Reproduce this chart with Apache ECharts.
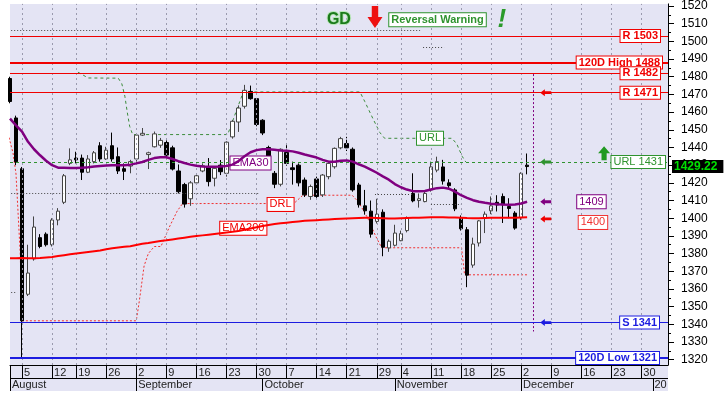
<!DOCTYPE html>
<html><head><meta charset="utf-8">
<script src="https://cdn.jsdelivr.net/npm/echarts@6.0.0/dist/echarts.min.js"></script>
<style>html,body{margin:0;padding:0;background:#fff}#c{width:728px;height:405px}</style>
</head><body><div id="c"></div>
<script>
// ---- calendar (trading days + future weekdays) ----
const augDays = [1,2,5,6,7,8,9,12,13,14,16,19,20,21,22,23,26,27,28,29,30];
const sepDays = [2,3,4,5,6,9,10,11,12,13,16,17,18,19,20,23,24,25,26,27,30];
const octDays = [1,2,3,4,7,8,9,10,11,14,15,16,17,18,21,22,23,24,25,29,30,31];
const novDays = [1,4,5,6,7,8,11,12,13,14,15,18,19,20,21,22,25,26,27,28,29];
const decDays = [2,3,4,5,6,9,10,11,12,13,16,17,18,19,20,23,24,25,26,27,30,31];
const janDays = [1,2,3];
const pad = d => (d < 10 ? '0' : '') + d;
const dates = [].concat(
  augDays.map(d => '2019-08-' + pad(d)), sepDays.map(d => '2019-09-' + pad(d)),
  octDays.map(d => '2019-10-' + pad(d)), novDays.map(d => '2019-11-' + pad(d)),
  decDays.map(d => '2019-12-' + pad(d)), janDays.map(d => '2020-01-' + pad(d)));

// ---- price data ----
const open = [1479,1456.7,1428,1357,1377,1389,1391,1385,1399,1409,
 1431,1434,1434,1426,1432,1441,1433.5,1441,1434.8,1428,
 1429.5,1433.5,1447,1436,1440.4,1441.3,1442.8,1439.8,1426.7,1419,
 1411,1420,1426.7,1429,1422.6,1430,1425.4,1446,1454.4,1463.3,
 1471.7,1467.6,1455.4,1440,1425.4,1419.2,1437.2,1428.5,1430,1421.6,
 1412.3,1422.2,1413.2,1423.5,1429.1,1439.8,1442.2,1439,1418.8,1407,
 1404,1398.2,1403.4,1383.2,1384.7,1387.3,1393,1414,1410,1409.4,
 1416,1427.2,1429,1420,1416,1400,1393.5,1373.5,1386,1400.4,
 1404.2,1409,1412.3,1406.6,1402.9,1400.4,1430];
const close = [1466,1432,1342,1369,1395,1384,1385,1399,1404,1424,
 1433,1433,1426,1433.5,1437,1433.5,1438.5,1433.5,1426.7,1426.5,
 1432,1447,1448,1437,1447.7,1444,1435.7,1427.8,1415,1408,
 1420,1424,1429.7,1420.7,1428.2,1426.3,1443,1454.8,1462.3,1472.3,
 1467.6,1453,1448.2,1433.8,1419.2,1439,1431,1427.5,1420,1413.2,
 1417.9,1412.3,1424.4,1431,1439.5,1445,1439.8,1416,1407.6,1404.2,
 1391,1402.3,1383.6,1387,1391.6,1391.3,1400.4,1409.8,1411,1414,
 1429,1432,1421,1418.4,1405.3,1394,1367.8,1385.4,1398.5,1402.3,
 1407,1407.5,1407.6,1405.5,1394.4,1425.4,1429.22];
const low = [1465,1430,1321,1356,1376,1383,1384,1384,1396,1408,
 1430,1431,1421.6,1425.5,1431,1432,1433,1432,1425,1421.6,
 1425.4,1432,1446.5,1427.8,1440,1439.8,1435,1427,1414,1406,
 1407,1419,1426,1418,1418,1424.4,1423.5,1445,1448.8,1462,
 1467,1452,1447,1432,1417,1418,1429.7,1419,1418,1412,
 1410.4,1411.5,1412,1422,1428,1439,1438,1415,1406,1402,
 1389,1397,1378.5,1381,1384,1387,1392,1409,1406,1409,
 1415,1426,1419,1417,1404,1393,1361,1372,1384,1391.6,
 1402.3,1403.8,1397.3,1400,1393.5,1399,1424.8];
const high = [1480,1458,1429,1385,1401,1391,1392,1400,1405.7,1425,
 1439.5,1437.6,1436,1435.7,1438,1443,1440.4,1448.4,1440,1431,
 1433,1447.5,1451,1437.6,1449,1445.4,1444,1441,1430.4,1420,
 1421,1425.4,1431,1434,1429,1432.9,1443.5,1455.5,1463.8,1475.4,
 1475,1468,1456,1441,1426.7,1439.5,1441.3,1432,1431,1423,
 1419,1423.5,1425,1432,1440,1446,1446,1440,1420,1416,
 1410,1411,1405,1388,1396.3,1393,1401,1425.4,1414,1415,
 1432,1434.8,1433,1422,1417,1401.6,1395,1389,1399,1403.8,
 1412.3,1413,1414,1411.3,1404,1426,1436.6];
const ema30 = [1456.3,1452.5,1449,1443.2,1439,1435.6,1432.5,1430,1428.6,1428.5,
 1428.4,1428.4,1428.6,1428.8,1429.2,1429.5,1429.8,1430,1430,1430,
 1430.3,1431,1431.8,1433,1434,1434.5,1434.5,1433.5,1432.3,1431.2,
 1430.3,1429.7,1429.3,1429.1,1429.1,1429.2,1429.5,1430.3,1432.3,1435,
 1437.3,1438.5,1439,1439,1438.7,1438.3,1438.2,1437.8,1437,1436,
 1435.2,1434.3,1433,1432,1431.9,1432.5,1432.7,1432,1430.5,1429.2,
 1427.5,1425.7,1423.7,1421.8,1419.3,1417.5,1416.2,1415.3,1415.2,1415.4,
 1416.2,1417,1417.3,1416.7,1415,1413,1411.5,1410.2,1409.3,1408.7,
 1408.2,1407.9,1407.7,1407.6,1407.8,1408.3,1409.3];
const ema200 = [1377.3,1377.4,1377.5,1377.4,1377.3,1377.5,1377.8,1378.1,1378.6,1379.1,
 1379.6,1380.1,1380.5,1380.9,1381.3,1381.7,1382.5,1383,1383.4,1383.8,
 1384.2,1384.9,1385.5,1386,1386.6,1387.1,1387.5,1388,1388.5,1389,
 1389.5,1389.9,1390.3,1390.7,1391.1,1391.5,1391.9,1392.3,1392.8,1393.5,
 1394.2,1394.9,1395.6,1396.2,1396.7,1397.1,1397.5,1397.9,1398.2,1398.5,
 1398.7,1398.9,1399.1,1399.3,1399.5,1399.7,1399.9,1400,1400.1,1400.2,
 1400.2,1400.1,1400,1399.9,1399.9,1400,1400.1,1400.2,1400.3,1400.4,
 1400.5,1400.5,1400.5,1400.4,1400.4,1400.3,1400.1,1400,1400,1400.1,
 1400.2,1400.3,1400.3,1400.3,1400.2,1400.4,1400.6];

// step lines (position in trading-day index, value)
const urlX = [11.3,13,18,18.6,19.1,19.5,19.9,20.4,36.2,38.8,58.2,59,60.4,61.5,62.3,73.5,74.3,75.2,75.8];
const urlY = [1482.6,1479.3,1479.2,1476,1469,1460,1452,1447.3,1447.3,1471.4,1471.4,1466,1456,1448.5,1445.2,1445.2,1442,1435,1431.8];
const drlX = [-0.5,0.5,1,1.7,2,21,21.5,22.3,23,24,25.1,26.5,27.8,28.7,47.2,48.7,56.9,58,59.5,60.8,61.8,75.1,75.6,86.1];
const drlY = [1450,1437,1425,1380,1342,1342,1353,1373,1380,1384,1384,1395,1404,1408.3,1408.3,1413,1413,1409,1400,1390,1383.3,1383.3,1368,1368];

// levels
const resValues = [1503, 1482, 1471];
const resLabels = ['R 1503', 'R 1482', 'R 1471'];
const high120 = 1488, low120 = 1321, support = 1341, urlLevel = 1431.8;
const lastPrice = 1429.22;

// axis tick labels
const weekTickDates = ['2019-08-05','2019-08-12','2019-08-19','2019-08-26','2019-09-02','2019-09-09','2019-09-16','2019-09-23','2019-09-30','2019-10-07','2019-10-14','2019-10-21','2019-10-29','2019-11-04','2019-11-11','2019-11-18','2019-11-25','2019-12-02','2019-12-09','2019-12-16','2019-12-23','2019-12-30'];
const monthStartDates = ['2019-08-01','2019-09-02','2019-10-01','2019-11-01','2019-12-02'];
const monthNames = ['August','September','October','November','December'];
const yearStartDate = '2020-01-01', yearName = '2020';
const yTicks = [1320,1330,1340,1350,1360,1370,1380,1390,1400,1410,1420,1430,1440,1450,1460,1470,1480,1490,1500,1510,1520];
const yMinor = [1325,1335,1345,1355,1365,1375,1385,1395,1405,1415,1425,1435,1445,1455,1465,1475,1485,1495,1505,1515];

// ---- build ----
const FONT = '"Liberation Sans", Arial, sans-serif';
const ix = d => dates.indexOf(d);
const weekIdx = weekTickDates.map(ix);
const monthIdx = monthStartDates.map(ix);
const yearIdx = ix(yearStartDate);
const X_MAX = 109.43, Y_MIN = 1317, Y_MAX = 1521.2;
const todayIdx = open.length; // next session marker

const candleData = open.map((o, i) => [i, o, close[i], low[i], high[i]]);
const pts = (xs, ys) => xs.map((x, i) => [x, ys[i]]);

function levelLine(v, text, color, width, bold, dist, dashed) {
  return {
    yAxis: v,
    lineStyle: { color: color, width: width, type: dashed ? [3, 3] : 'solid' },
    label: {
      show: true, position: 'end', distance: -dist, align: 'right', formatter: text,
      color: color, fontWeight: bold ? 'bold' : 'normal', fontSize: 11, fontFamily: FONT,
      backgroundColor: '#fff', borderColor: color, borderWidth: 1, padding: [1, 2, 0, 2], lineHeight: 11
    }
  };
}
const RED = '#f00000', BLUE = '#1c1ce0', GREEN = '#2f932f', PURPLE = '#800080';

function boxLabel(coord, text, color, bold, bg) {
  return {
    coord: coord, symbol: 'rect', symbolSize: 1, itemStyle: { color: 'rgba(0,0,0,0)' },
    label: { show: true, position: 'inside', formatter: text, color: color, fontSize: 11, fontFamily: FONT,
      fontWeight: bold ? 'bold' : 'normal', backgroundColor: bg || '#fff', borderColor: color, borderWidth: 1,
      padding: [1, 2, 0, 2], lineHeight: 12 }
  };
}
const LEFT_ARROW = 'path://M0,5L5,0L5,3L12,3L12,7L5,7L5,10Z';
function arrow(coord, color) {
  return { coord: coord, symbol: LEFT_ARROW, symbolSize: [11, 7], itemStyle: { color: color }, label: { show: false } };
}
const DOT = { color: '#444', type: [1, 2], width: 1 };

const option = {
  animation: false,
  backgroundColor: '#fff',
  textStyle: { fontFamily: FONT },
  grid: [
    { left: 10, right: 60, top: 0, bottom: 40, show: true, backgroundColor: '#e4e4f4', borderWidth: 0 },
    { left: 10, right: 60, top: 365, height: 26, show: true, backgroundColor: '#e4e4f4', borderWidth: 0 }
  ],
  xAxis: [
    { gridIndex: 0, type: 'value', min: 0, max: X_MAX, axisLine: { show: false, onZero: false }, axisTick: { show: false },
      axisLabel: { show: false }, splitLine: { show: false } },
    { gridIndex: 1, type: 'value', min: 0, max: X_MAX, position: 'top',
      axisLine: { show: true, onZero: false, lineStyle: { color: '#000', width: 1 } },
      axisTick: { show: true, inside: true, length: 13, customValues: [0].concat(weekIdx), lineStyle: { color: '#000' } },
      axisLabel: { show: true, inside: true, customValues: weekIdx, margin: 2, align: 'left', padding: [0, 0, 0, 2],
        fontSize: 11, color: '#222', formatter: v => String(+dates[Math.round(v)].slice(8)) },
      splitLine: { show: false } },
    { gridIndex: 1, type: 'value', min: 0, max: X_MAX, position: 'bottom',
      axisLine: { show: false, onZero: false },
      axisTick: { show: true, inside: true, length: 13, customValues: monthIdx.concat([yearIdx]), lineStyle: { color: '#000' } },
      axisLabel: { show: true, inside: true, customValues: monthIdx, margin: 1, align: 'left', padding: [0, 0, 0, 2],
        fontSize: 11, color: '#222', formatter: v => monthNames[monthIdx.indexOf(Math.round(v))] },
      splitLine: { show: false } },
    { gridIndex: 1, type: 'value', min: 0, max: X_MAX, position: 'bottom', offset: 0,
      axisLine: { show: false, onZero: false }, axisTick: { show: false },
      axisLabel: { show: true, inside: true, customValues: [yearIdx], margin: 1, align: 'left', padding: [0, 0, 0, 1],
        fontSize: 11, color: '#222', width: 15, overflow: 'truncate', ellipsis: '', formatter: () => yearName },
      splitLine: { show: false } }
  ],
  yAxis: [
    { gridIndex: 0, type: 'value', position: 'right', min: Y_MIN, max: Y_MAX,
      axisLine: { show: true, onZero: false, lineStyle: { color: '#000' } },
      axisTick: { show: true, length: 6, customValues: yTicks, lineStyle: { color: '#000' } },
      axisLabel: { show: true, customValues: yTicks, margin: 13, fontSize: 12, color: '#000', formatter: v => String(v) },
      splitLine: { show: false } },
    { gridIndex: 0, type: 'value', position: 'right', min: Y_MIN, max: Y_MAX,
      axisLine: { show: false, onZero: false },
      axisTick: { show: true, length: 3, customValues: yMinor, lineStyle: { color: '#000' } },
      axisLabel: { show: false }, splitLine: { show: false } },
    { gridIndex: 0, type: 'value', position: 'right', min: Y_MIN, max: Y_MAX,
      axisLine: { show: false, onZero: false }, axisTick: { show: false },
      axisLabel: { show: true, customValues: [lastPrice], margin: 4, fontSize: 12, fontWeight: 'bold',
        color: '#00e000', backgroundColor: '#000', padding: [1, 6, 0, 2], formatter: () => lastPrice.toFixed(2) },
      splitLine: { show: false } },
    { gridIndex: 1, type: 'value', min: 0, max: 2, show: false, axisLine: { show: false, onZero: false } }
  ],
  series: [
    // row separator in the date band
    { type: 'line', data: [], xAxisIndex: 1, yAxisIndex: 3, z: 2, silent: true,
      markLine: { silent: true, symbol: ['none', 'none'], animation: false, label: { show: false },
        lineStyle: { color: '#000', type: 'solid', width: 1 }, data: [{ yAxis: 1 }] } },
    // vertical weekly grid + dotted traces
    { type: 'line', data: [], z: 1, silent: true,
      markLine: { silent: true, symbol: ['none', 'none'], animation: false, label: { show: false },
        lineStyle: { color: '#9a9aae', type: [2, 3], width: 1 },
        data: weekIdx.map(v => ({ xAxis: v })).concat([
          [{ coord: [0.2, 1506.2], lineStyle: DOT }, { coord: [68.2, 1506.2], lineStyle: DOT }],
          [{ coord: [68.7, 1496.6], lineStyle: DOT }, { coord: [72.2, 1496.6], lineStyle: DOT }],
          [{ coord: [0.2, 1414], lineStyle: DOT }, { coord: [41.5, 1414], lineStyle: DOT }],
          [{ coord: [60.7, 1413.6], lineStyle: DOT }, { coord: [67, 1413.6], lineStyle: DOT }],
          [{ coord: [70, 1408], lineStyle: DOT }, { coord: [75, 1408], lineStyle: DOT }],
          [{ coord: [0.2, 1358], lineStyle: DOT }, { coord: [1.2, 1358], lineStyle: DOT }],
          [{ coord: [todayIdx, 1481.5], lineStyle: { color: PURPLE, type: [2, 2], width: 1 } }, { coord: [todayIdx, 1336] }]
        ]) } },
    // URL / DRL step lines
    { type: 'line', data: pts(urlX, urlY), z: 2, symbol: 'none', silent: true,
      lineStyle: { color: '#3c8c3c', width: 1, type: [3, 3] } },
    { type: 'line', data: pts(drlX, drlY), z: 2, symbol: 'none', silent: true,
      lineStyle: { color: '#f03030', width: 1, type: [2, 2] } },
    // horizontal levels
    { type: 'line', data: [], z: 3, silent: true,
      markLine: { silent: true, symbol: ['none', 'none'], animation: false,
        data: [
          levelLine(urlLevel, 'URL 1431', GREEN, 1, false, 3, true),
          levelLine(resValues[0], resLabels[0], RED, 1, true, 8),
          levelLine(high120, '120D High ' + high120, RED, 2, true, 6),
          levelLine(resValues[1], resLabels[1], RED, 1, true, 8),
          levelLine(resValues[2], resLabels[2], RED, 1, true, 8),
          levelLine(support, 'S ' + support, BLUE, 1, true, 9),
          levelLine(low120, '120D Low ' + low120, BLUE, 2, true, 9)
        ] } },
    // candles
    { type: 'candlestick', layout: 'horizontal', data: candleData, encode: { x: 0, y: [1, 2, 3, 4] },
      z: 4, barWidth: 4, clip: true,
      itemStyle: { color: '#ffffff', color0: '#000000', borderColor: '#444', borderColor0: '#000', borderWidth: 1 } },
    // EMAs
    { type: 'line', data: ema200.map((v, i) => [i, v]), z: 5, symbol: 'none', lineStyle: { color: '#ff0000', width: 2 } },
    { type: 'line', data: ema30.map((v, i) => [i, v]), z: 5, symbol: 'none', lineStyle: { color: PURPLE, width: 2.5 } },
    // annotations
    { type: 'line', data: [], z: 8, silent: true,
      markPoint: { silent: true, animation: false,
        data: [
          boxLabel([69.85, 1445.2], 'URL', GREEN, false),
          boxLabel([40, 1431.2], 'EMA30', PURPLE, false),
          boxLabel([45, 1407.8], 'DRL', RED, false),
          boxLabel([38.8, 1394.3], 'EMA200', RED, false),
          boxLabel([96.7, 1409.3], '1409', PURPLE, false),
          boxLabel([96.95, 1397.6], '1400', '#f03030', false),
          boxLabel([71.1, 1512.2], 'Reversal Warning', GREEN, true),
          arrow([89.1, 1471], RED), arrow([89.1, 1431.8], GREEN), arrow([89.1, 1409.3], PURPLE),
          arrow([89.1, 1399.6], RED), arrow([89.1, 1341], BLUE),
          { coord: [60.7, 1513.8], symbol: 'path://M4,0H10V9H14L7,18L0,9H4Z', symbolSize: [15, 22],
            itemStyle: { color: '#ee1111' }, label: { show: false } },
          { coord: [98.8, 1436.7], symbol: 'path://M7,0L14,8H10V16H4V8H0Z', symbolSize: [12, 14],
            itemStyle: { color: '#229922' }, label: { show: false } },
          { coord: [54.7, 1512.4], symbol: 'rect', symbolSize: 1, itemStyle: { color: 'rgba(0,0,0,0)' },
            label: { show: true, position: 'inside', formatter: 'GD', fontSize: 16, fontWeight: 'bold', color: '#1b7a1b',
              textBorderColor: '#b9e6b9', textBorderWidth: 2, fontFamily: FONT } },
          { coord: [81.8, 1512], symbol: 'rect', symbolSize: 1, itemStyle: { color: 'rgba(0,0,0,0)' },
            label: { show: true, position: 'inside', formatter: '!', fontSize: 26, fontWeight: 'bold', fontStyle: 'italic',
              color: '#2a9a2a', fontFamily: FONT } }
        ] } }
  ]
};
const chart = echarts.init(document.getElementById('c'), null, { renderer: 'canvas' });
chart.setOption(option);
</script></body></html>
